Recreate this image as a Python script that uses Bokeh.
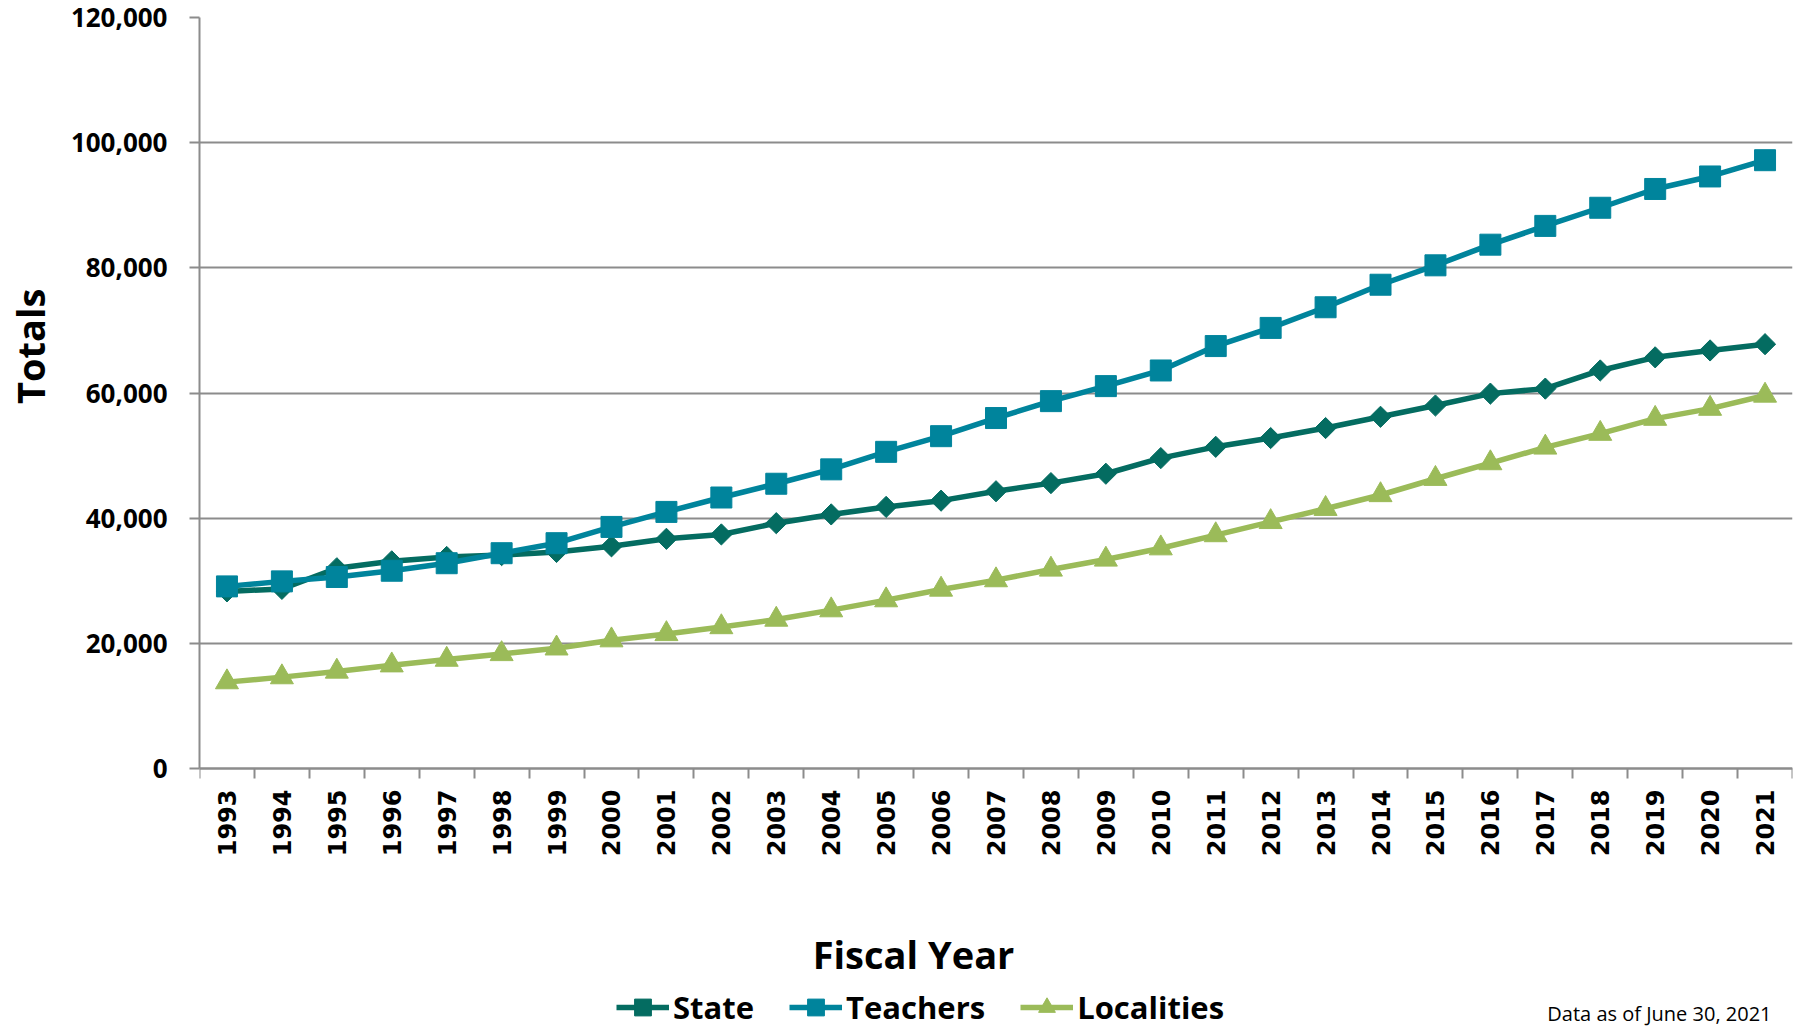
import math
from bokeh.plotting import figure
from bokeh.models import (Range1d, FixedTicker, NumeralTickFormatter, Legend,
                          LegendItem, Label)
from bokeh.embed import file_html
from bokeh.resources import INLINE

years = list(range(1993, 2022))
state = [28300, 28700, 32000, 33100, 33800, 34100, 34600, 35500, 36700, 37400,
         39200, 40600, 41800, 42800, 44300, 45600, 47100, 49600, 51400, 52800,
         54400, 56200, 58000, 59900, 60700, 63600, 65700, 66800, 67800]
teachers = [29100, 29900, 30600, 31600, 32800, 34400, 36000, 38600, 41000, 43300,
            45500, 47800, 50600, 53100, 56000, 58700, 61100, 63600, 67500, 70400,
            73700, 77300, 80400, 83700, 86700, 89600, 92600, 94600, 97200]
localities = [13800, 14600, 15500, 16500, 17400, 18300, 19200, 20500, 21500, 22600,
              23800, 25300, 26900, 28600, 30100, 31800, 33400, 35200, 37300, 39400,
              41500, 43700, 46300, 48800, 51300, 53500, 55900, 57500, 59600]
y_ticks = [0, 20000, 40000, 60000, 80000, 100000, 120000]
y_max = 120000

C_STATE = "#046C61"
C_TEACH = "#00849C"
C_LOC = "#9BBB59"
GRID = "#8C8C8C"
FONT = "Open Sans"
NBSP = "\u00a0"

# layout (pixels): plot area from y=17 to y=768, the region below it holds
# the year labels, the axis title and the legend (kept inside the frame)
W, H = 1796, 1030
TOP, ZERO_Y, LEFT, RIGHT = 17, 768, 198, 4
below_px = H - ZERO_Y
y_min = -y_max * below_px / (ZERO_Y - TOP)

p = figure(width=W, height=H, output_backend="svg", toolbar_location=None,
           x_range=Range1d(years[0] - 0.5, years[-1] + 0.5),
           y_range=Range1d(y_min, y_max),
           min_border_left=LEFT, min_border_right=RIGHT, min_border_top=TOP,
           min_border_bottom=0)
p.outline_line_color = None
p.background_fill_color = "white"
p.border_fill_color = "white"

# grids
p.xgrid.grid_line_color = None
p.ygrid.grid_line_color = GRID
p.ygrid.grid_line_width = 2
p.ygrid.ticker = FixedTicker(ticks=y_ticks)

# y axis
yax = p.yaxis[0]
yax.ticker = FixedTicker(ticks=y_ticks)
yax.bounds = (0, y_max)
yax.formatter = NumeralTickFormatter(format="0,0")
yax.axis_line_color = GRID
yax.axis_line_width = 2
yax.major_tick_line_color = GRID
yax.major_tick_line_width = 2
yax.major_tick_out = 10
yax.major_tick_in = 0
yax.minor_tick_line_color = None
yax.major_label_standoff = 22
yax.major_label_text_font = FONT
yax.major_label_text_font_style = "bold"
yax.major_label_text_font_size = "26px"
yax.major_label_text_color = "black"
# the title sits above the middle of the frame: lead with no-break spaces
yax.axis_label = NBSP * 36 + "Totals"
yax.axis_label_text_font = FONT
yax.axis_label_text_font_style = "bold"
yax.axis_label_text_font_size = "38px"
yax.axis_label_text_color = "black"
yax.axis_label_standoff = 12

# x axis, drawn at y = 0
xax = p.xaxis[0]
xax.fixed_location = 0
xax.ticker = FixedTicker(ticks=years,
                         minor_ticks=[y - 0.5 for y in years] + [years[-1] + 0.5])
xax.axis_line_color = GRID
xax.axis_line_width = 2
xax.major_tick_line_color = None
xax.major_tick_out = 0
xax.major_tick_in = 0
xax.minor_tick_line_color = GRID
xax.minor_tick_line_width = 2
xax.minor_tick_out = 10
xax.minor_tick_in = 0
xax.major_label_orientation = math.pi / 2
xax.major_label_standoff = 11
xax.major_label_text_font = "DejaVu Sans"
xax.major_label_text_font_style = "bold"
xax.major_label_text_font_size = "24px"
xax.major_label_text_color = "black"

# series
r_s_line = p.line(years, state, line_color=C_STATE, line_width=5.5)
r_s_mark = p.scatter(years, state, marker="square", angle=math.pi / 4, size=15,
                     fill_color=C_STATE, line_color=C_STATE)
r_t_line = p.line(years, teachers, line_color=C_TEACH, line_width=5.5)
r_t_mark = p.scatter(years, teachers, marker="square", size=21,
                     fill_color=C_TEACH, line_color=C_TEACH)
r_l_line = p.line(years, localities, line_color=C_LOC, line_width=5.5)
r_l_mark = p.scatter(years, localities, marker="triangle", size=23,
                     fill_color=C_LOC, line_color=C_LOC)

# axis title (screen units are measured from the frame's bottom-left corner)
p.add_layout(Label(x=912 - LEFT, y=H - 953, x_units="screen", y_units="screen",
                   text="Fiscal Year", text_align="center", text_baseline="middle",
                   text_font=FONT, text_font_style="bold", text_font_size="38px",
                   text_color="black"))

legend = Legend(items=[
    LegendItem(label="State", renderers=[r_s_line, r_s_mark]),
    LegendItem(label="Teachers", renderers=[r_t_line, r_t_mark]),
    LegendItem(label="Localities", renderers=[r_l_line, r_l_mark]),
], orientation="horizontal", location=(615 - LEFT, 2))
legend.border_line_color = None
legend.background_fill_alpha = 0
legend.label_text_font = FONT
legend.label_text_font_style = "bold"
legend.label_text_font_size = "31px"
legend.label_text_color = "black"
legend.glyph_width = 53
legend.glyph_height = 42
legend.label_standoff = 4
legend.spacing = 35
legend.padding = 0
legend.margin = 0
p.add_layout(legend)

# footnote at the bottom right
p.add_layout(Label(x=1770 - LEFT, y=4, x_units="screen", y_units="screen",
                   text="Data as of June 30, 2021", text_align="right",
                   text_baseline="bottom", text_font=FONT, text_font_size="20px",
                   text_color="black"))

open("out.html", "w").write(file_html(p, INLINE))
